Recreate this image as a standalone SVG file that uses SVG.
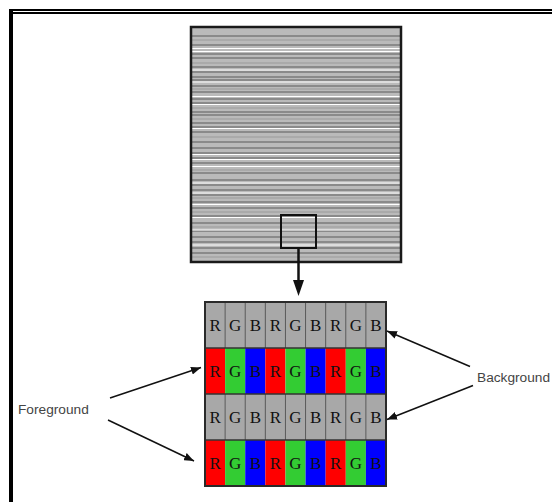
<svg xmlns="http://www.w3.org/2000/svg" width="552" height="502" viewBox="0 0 552 502">
<defs>
<style>
.dk{stroke:#7a7a7a;stroke-width:1.5}
.wt{stroke:#ffffff;stroke-width:1}
.lt{stroke:#9a9a9a;stroke-width:1}
.cell{font-family:"Liberation Serif",serif;font-size:17px;fill:#111;text-anchor:middle}
.lbl{font-family:"Liberation Sans",Arial,sans-serif;font-size:13.7px;fill:#444}
.conn{stroke:#111;fill:none}
</style>
<marker id="head" markerUnits="userSpaceOnUse" markerWidth="10" markerHeight="8" refX="10" refY="4" orient="auto" viewBox="0 0 10 8">
<path d="M0,0 L10,4 L0,8 Z" fill="#111"/>
</marker>
</defs>
<rect width="552" height="502" fill="#ffffff"/>
<g id="frame">
<rect x="9" y="9" width="4" height="493" fill="#000"/>
<rect x="9" y="9" width="543" height="2" fill="#000"/>
<rect x="13" y="12" width="539" height="2" fill="#000"/>
</g>
<g id="screen">
<rect x="191" y="27" width="210" height="235" fill="#bababa"/>
<g class="dk">
<line x1="192" y1="36" x2="400" y2="36"/><line x1="192" y1="45" x2="400" y2="45"/><line x1="192" y1="54" x2="400" y2="54"/><line x1="192" y1="58" x2="400" y2="58"/><line x1="192" y1="67" x2="400" y2="67"/><line x1="192" y1="72" x2="400" y2="72"/><line x1="192" y1="77" x2="400" y2="77"/><line x1="192" y1="80" x2="400" y2="80"/><line x1="192" y1="86" x2="400" y2="86"/><line x1="192" y1="92" x2="400" y2="92"/><line x1="192" y1="99" x2="400" y2="99"/><line x1="192" y1="103" x2="400" y2="103"/><line x1="192" y1="112" x2="400" y2="112"/><line x1="192" y1="115" x2="400" y2="115"/><line x1="192" y1="123" x2="400" y2="123"/><line x1="192" y1="127" x2="400" y2="127"/><line x1="192" y1="132" x2="400" y2="132"/><line x1="192" y1="142" x2="400" y2="142"/><line x1="192" y1="148" x2="400" y2="148"/><line x1="192" y1="153" x2="400" y2="153"/><line x1="192" y1="158" x2="400" y2="158"/><line x1="192" y1="163" x2="400" y2="163"/><line x1="192" y1="173" x2="400" y2="173"/><line x1="192" y1="180" x2="400" y2="180"/><line x1="192" y1="185" x2="400" y2="185"/><line x1="192" y1="190" x2="400" y2="190"/><line x1="192" y1="195" x2="400" y2="195"/><line x1="192" y1="202" x2="400" y2="202"/><line x1="192" y1="208" x2="400" y2="208"/><line x1="192" y1="216" x2="400" y2="216"/><line x1="192" y1="223" x2="400" y2="223"/><line x1="192" y1="231" x2="400" y2="231"/><line x1="192" y1="237" x2="400" y2="237"/><line x1="192" y1="242" x2="400" y2="242"/><line x1="192" y1="248" x2="400" y2="248"/><line x1="192" y1="253" x2="400" y2="253"/>
</g>
<g class="lt">
<line x1="192" y1="40" x2="400" y2="40"/><line x1="192" y1="63" x2="400" y2="63"/><line x1="192" y1="89" x2="400" y2="89"/><line x1="192" y1="108" x2="400" y2="108"/><line x1="192" y1="119" x2="400" y2="119"/><line x1="192" y1="137" x2="400" y2="137"/><line x1="192" y1="170" x2="400" y2="170"/><line x1="192" y1="198" x2="400" y2="198"/><line x1="192" y1="212" x2="400" y2="212"/><line x1="192" y1="227" x2="400" y2="227"/><line x1="192" y1="257" x2="400" y2="257"/>
</g>
<g class="wt">
<line x1="192" y1="48.5" x2="400" y2="48.5"/><line x1="192" y1="51.5" x2="400" y2="51.5"/><line x1="192" y1="70" x2="400" y2="70"/><line x1="192" y1="82" x2="400" y2="82"/><line x1="192" y1="96.5" x2="400" y2="96.5"/><line x1="192" y1="104.5" x2="400" y2="104.5"/><line x1="192" y1="128.5" x2="400" y2="128.5"/><line x1="192" y1="154.5" x2="400" y2="154.5"/><line x1="192" y1="159.5" x2="400" y2="159.5"/><line x1="192" y1="166.5" x2="400" y2="166.5"/><line x1="192" y1="183" x2="400" y2="183"/><line x1="192" y1="193" x2="400" y2="193"/><line x1="192" y1="204.5" x2="400" y2="204.5"/><line x1="192" y1="217.5" x2="400" y2="217.5"/><line x1="192" y1="230" x2="400" y2="230"/><line x1="192" y1="245" x2="400" y2="245"/>
</g>
<rect x="191" y="27" width="210" height="235" fill="none" stroke="#1a1a1a" stroke-width="2.5"/>
</g>
<g id="zoom-box">
<rect x="281" y="215" width="35" height="33" fill="none" stroke="#111" stroke-width="2"/>
</g>
<g id="pixel-grid">
<rect x="205" y="302" width="181" height="46" fill="#a8a8a8"/>
<rect x="205" y="394" width="181" height="46" fill="#a8a8a8"/>
<g>
<rect x="205" y="348" width="20.11" height="46" fill="#ff0000"/><rect x="225.11" y="348" width="20.11" height="46" fill="#33cc33"/><rect x="245.22" y="348" width="20.11" height="46" fill="#0000ff"/>
<rect x="265.33" y="348" width="20.11" height="46" fill="#ff0000"/><rect x="285.44" y="348" width="20.11" height="46" fill="#33cc33"/><rect x="305.55" y="348" width="20.11" height="46" fill="#0000ff"/>
<rect x="325.66" y="348" width="20.11" height="46" fill="#ff0000"/><rect x="345.77" y="348" width="20.11" height="46" fill="#33cc33"/><rect x="365.88" y="348" width="20.12" height="46" fill="#0000ff"/>
<rect x="205" y="440" width="20.11" height="46" fill="#ff0000"/><rect x="225.11" y="440" width="20.11" height="46" fill="#33cc33"/><rect x="245.22" y="440" width="20.11" height="46" fill="#0000ff"/>
<rect x="265.33" y="440" width="20.11" height="46" fill="#ff0000"/><rect x="285.44" y="440" width="20.11" height="46" fill="#33cc33"/><rect x="305.55" y="440" width="20.11" height="46" fill="#0000ff"/>
<rect x="325.66" y="440" width="20.11" height="46" fill="#ff0000"/><rect x="345.77" y="440" width="20.11" height="46" fill="#33cc33"/><rect x="365.88" y="440" width="20.12" height="46" fill="#0000ff"/>
</g>
<g stroke="#5a5a5a" stroke-width="1">
<line x1="225.11" y1="302" x2="225.11" y2="348"/><line x1="245.22" y1="302" x2="245.22" y2="348"/><line x1="265.33" y1="302" x2="265.33" y2="348"/><line x1="285.44" y1="302" x2="285.44" y2="348"/><line x1="305.55" y1="302" x2="305.55" y2="348"/><line x1="325.66" y1="302" x2="325.66" y2="348"/><line x1="345.77" y1="302" x2="345.77" y2="348"/><line x1="365.88" y1="302" x2="365.88" y2="348"/>
<line x1="225.11" y1="394" x2="225.11" y2="440"/><line x1="245.22" y1="394" x2="245.22" y2="440"/><line x1="265.33" y1="394" x2="265.33" y2="440"/><line x1="285.44" y1="394" x2="285.44" y2="440"/><line x1="305.55" y1="394" x2="305.55" y2="440"/><line x1="325.66" y1="394" x2="325.66" y2="440"/><line x1="345.77" y1="394" x2="345.77" y2="440"/><line x1="365.88" y1="394" x2="365.88" y2="440"/>
</g>
<g stroke="#333" stroke-width="1.5">
<line x1="205" y1="348" x2="386" y2="348"/><line x1="205" y1="394" x2="386" y2="394"/><line x1="205" y1="440" x2="386" y2="440"/>
</g>
<rect x="205" y="302" width="181" height="184" fill="none" stroke="#2a2a2a" stroke-width="2"/>
<g class="cell">
<text x="215.1" y="331">R</text><text x="235.2" y="331">G</text><text x="255.3" y="331">B</text><text x="275.4" y="331">R</text><text x="295.5" y="331">G</text><text x="315.6" y="331">B</text><text x="335.7" y="331">R</text><text x="355.8" y="331">G</text><text x="375.9" y="331">B</text>
<text x="215.1" y="377">R</text><text x="235.2" y="377">G</text><text x="255.3" y="377">B</text><text x="275.4" y="377">R</text><text x="295.5" y="377">G</text><text x="315.6" y="377">B</text><text x="335.7" y="377">R</text><text x="355.8" y="377">G</text><text x="375.9" y="377">B</text>
<text x="215.1" y="423">R</text><text x="235.2" y="423">G</text><text x="255.3" y="423">B</text><text x="275.4" y="423">R</text><text x="295.5" y="423">G</text><text x="315.6" y="423">B</text><text x="335.7" y="423">R</text><text x="355.8" y="423">G</text><text x="375.9" y="423">B</text>
<text x="215.1" y="469">R</text><text x="235.2" y="469">G</text><text x="255.3" y="469">B</text><text x="275.4" y="469">R</text><text x="295.5" y="469">G</text><text x="315.6" y="469">B</text><text x="335.7" y="469">R</text><text x="355.8" y="469">G</text><text x="375.9" y="469">B</text>
</g>
</g>
<g id="label-foreground">
<text class="lbl" x="18" y="414">Foreground</text>
</g>
<g id="label-background">
<text class="lbl" x="477" y="382">Background</text>
</g>
<g id="connectors">
<line class="conn" x1="298.5" y1="248" x2="298.5" y2="280" stroke-width="2.5"/>
<path d="M293,280 L304,280 L298.5,296 Z" fill="#111"/>
<line class="conn" x1="110" y1="398" x2="201" y2="367.5" stroke-width="1.5" marker-end="url(#head)"/>
<line class="conn" x1="108" y1="420" x2="194" y2="461" stroke-width="1.5" marker-end="url(#head)"/>
<line class="conn" x1="470" y1="366.5" x2="387" y2="331" stroke-width="1.5" marker-end="url(#head)"/>
<line class="conn" x1="473" y1="385.5" x2="387" y2="419.5" stroke-width="1.5" marker-end="url(#head)"/>
</g>
</svg>
